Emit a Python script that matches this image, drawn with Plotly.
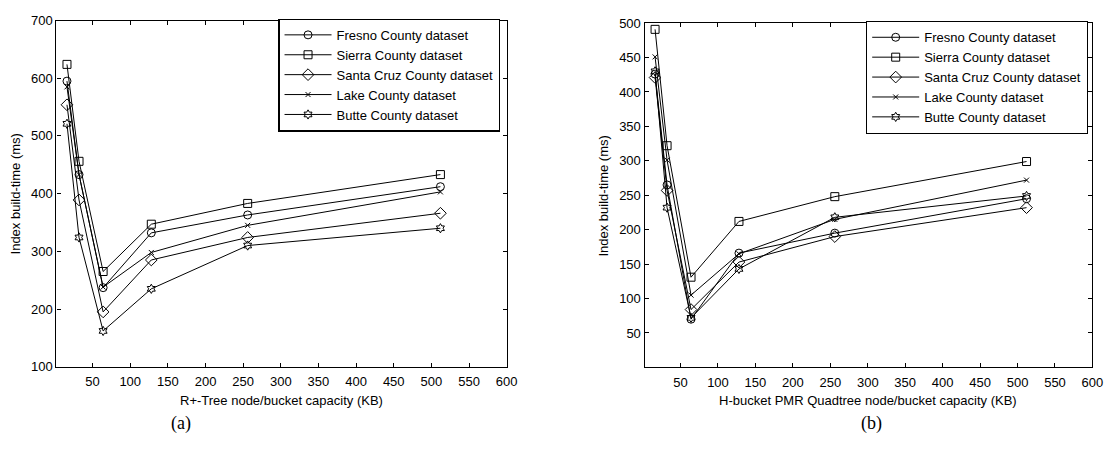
import plotly.graph_objects as go

# ---- data ----
capacity_kb = [16, 32, 64, 128, 256, 512]

series_names = ["Fresno County dataset", "Sierra County dataset", "Santa Cruz County dataset",
                "Lake County dataset", "Butte County dataset"]

# (a) R+-Tree
fresno_a = [595, 433, 237, 332, 363, 412]
sierra_a = [624, 456, 265, 347, 383, 433]
santa_a = [554, 389, 195, 285, 324, 366]
lake_a = [585, 433, 238, 298, 345, 403]
butte_a = [521, 324, 162, 235, 310, 340]

# (b) H-bucket PMR Quadtree
fresno_b = [426, 265, 70, 166, 195, 245]
sierra_b = [491, 322, 131, 212, 248, 299]
santa_b = [421, 257, 84, 153, 190, 232]
lake_b = [451, 301, 105, 165, 215, 272]
butte_b = [430, 232, 72, 143, 218, 249]

x_ticks = [50, 100, 150, 200, 250, 300, 350, 400, 450, 500, 550, 600]
y_ticks_a = [100, 200, 300, 400, 500, 600, 700]
y_ticks_b = [50, 100, 150, 200, 250, 300, 350, 400, 450, 500]

# ---- styles ----
symbols = ["circle-open", "square-open", "diamond-open", "x-thin-open", "hexagram-open"]
sizes = [8, 8, 9, 5, 7]
FONT = "Liberation Sans, Arial, sans-serif"

fig = go.Figure()

def add_series(data_list, xaxis, yaxis, legend):
    for name, ys, sym, sz in zip(series_names, data_list, symbols, sizes):
        fig.add_trace(go.Scatter(
            x=capacity_kb, y=ys, name=name, mode="lines+markers",
            line=dict(color="black", width=1),
            marker=dict(symbol=sym, size=sz, color="black",
                        line=dict(color="black", width=1)),
            xaxis=xaxis, yaxis=yaxis, legend=legend,
        ))

add_series([fresno_a, sierra_a, santa_a, lake_a, butte_a], "x", "y", "legend")
add_series([fresno_b, sierra_b, santa_b, lake_b, butte_b], "x2", "y2", "legend2")

axis_common = dict(
    showline=True, linecolor="black", linewidth=1.3, mirror="ticks",
    ticks="inside", ticklen=4, tickwidth=1, tickcolor="black",
    showgrid=False, zeroline=False,
    tickfont=dict(family=FONT, size=13, color="black"),
)

W, H = 1118, 454
fig.update_layout(
    width=W, height=H,
    margin=dict(l=0, r=0, t=0, b=0),
    paper_bgcolor="white", plot_bgcolor="white",
    showlegend=True,
    xaxis=dict(domain=[57 / W, 511.7 / W], range=[2, 600], tickvals=x_ticks, anchor="y",
               ticklabelstandoff=3, **axis_common),
    yaxis=dict(domain=[(H - 372) / H, (H - 14) / H], range=[100, 700], tickvals=y_ticks_a, anchor="x", **axis_common),
    xaxis2=dict(domain=[651 / W, 1103.3 / W], range=[2, 600], tickvals=x_ticks, anchor="y2",
                ticklabelstandoff=3, **axis_common),
    yaxis2=dict(domain=[(H - 372.7) / H, (H - 16.7) / H], range=[0, 500], tickvals=y_ticks_b, anchor="x2", **axis_common),
    legend=dict(x=281 / W, y=(H - 12) / H, xanchor="left", yanchor="top",
                bordercolor="black", borderwidth=1.3, bgcolor="white",
                font=dict(family=FONT, size=13, color="black"), itemwidth=47,
                tracegroupgap=0),
    legend2=dict(x=874.5 / W, y=(H - 14.5) / H, xanchor="left", yanchor="top",
                 bordercolor="black", borderwidth=1.3, bgcolor="white",
                 font=dict(family=FONT, size=13, color="black"), itemwidth=47,
                 tracegroupgap=0),
)

annots = [
    dict(text="Index build-time (ms)", x=16, y=193, textangle=-90),
    dict(text="Index build-time (ms)", x=610, y=195, textangle=-90),
    dict(text="R+-Tree node/bucket capacity (KB)", x=284, y=407),
    dict(text="H-bucket PMR Quadtree node/bucket capacity (KB)", x=877, y=407),
]
for a in annots:
    fig.add_annotation(text=a["text"], x=a["x"] / W, y=(H - a["y"]) / H, xref="paper", yref="paper",
                       xanchor="center", yanchor="middle", showarrow=False,
                       textangle=a.get("textangle", 0),
                       font=dict(family=FONT, size=13, color="black"))

for lbl, xc in [("(a)", 183), ("(b)", 880)]:
    fig.add_annotation(text=lbl, x=xc / W, y=(H - 431) / H, xref="paper", yref="paper",
                       xanchor="center", yanchor="middle", showarrow=False,
                       font=dict(family="Liberation Serif, Times New Roman, serif", size=18, color="black"))

fig.write_html("out.html")
